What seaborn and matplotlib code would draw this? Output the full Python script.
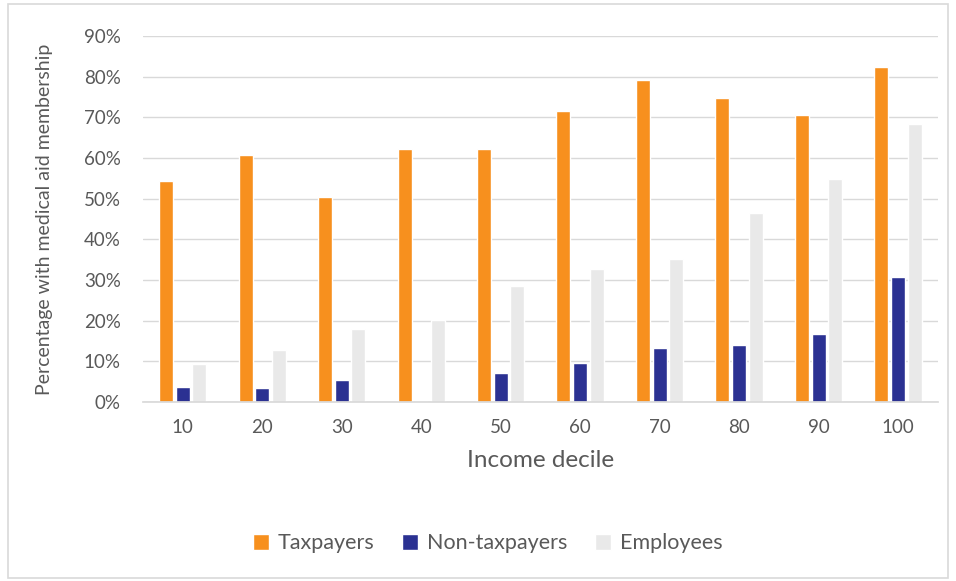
import matplotlib.pyplot as plt
import numpy as np
import pandas as pd
import seaborn as sns
from matplotlib.patches import Rectangle
from matplotlib.ticker import PercentFormatter

deciles = [10, 20, 30, 40, 50, 60, 70, 80, 90, 100]
taxpayers = [54.4, 60.7, 50.5, 62.1, 62.3, 71.5, 79.2, 74.8, 70.7, 82.4]
non_taxpayers = [3.6, 3.4, 5.3, 0.0, 7.2, 9.6, 13.2, 14.1, 16.7, 30.7]
employees = [9.3, 12.8, 17.9, 20.2, 28.5, 32.8, 35.1, 46.6, 54.9, 68.4]

series = ['Taxpayers', 'Non-taxpayers', 'Employees']
colors = ['#F7901E', '#2B3192', '#E9E9E9']

data = pd.DataFrame({
    'decile': deciles * 3,
    'group': np.repeat(series, len(deciles)),
    'value': taxpayers + non_taxpayers + employees,
})

sns.set_theme(style='white')
plt.rcParams['font.family'] = ['Lato', 'DejaVu Sans']
text_color = '#595959'

fig = plt.figure(figsize=(9.56, 5.81), dpi=100)
ax = fig.add_axes([0.1496, 0.308, 0.8314, 0.63])

sns.barplot(data=data, x='decile', y='value', hue='group', hue_order=series,
            palette=colors, width=0.63, gap=0.16, saturation=1, ax=ax, legend=True)

ax.set_ylim(0, 90)
ax.set_yticks(np.arange(0, 91, 10))
ax.yaxis.set_major_formatter(PercentFormatter(decimals=0))
ax.grid(axis='y', color='#D9D9D9', linewidth=1)
ax.set_axisbelow(True)
for s in ['top', 'right', 'left']:
    ax.spines[s].set_visible(False)
ax.spines['bottom'].set_color('#D9D9D9')
ax.tick_params(axis='both', length=0, labelsize=13.5, labelcolor=text_color)
ax.tick_params(axis='x', pad=12)
ax.tick_params(axis='y', pad=16)
ax.set_xlabel('Income decile', fontsize=17.5, color=text_color, labelpad=10)
ax.set_ylabel('Percentage with medical aid membership', fontsize=14, color=text_color, labelpad=22)

ax.legend(loc='center', bbox_to_anchor=(0.51, 0.065), bbox_transform=fig.transFigure,
          ncol=3, frameon=False, fontsize=15.5, labelcolor=text_color,
          handlelength=0.75, handleheight=0.75, handletextpad=0.4, columnspacing=1.3)

fig.patches.append(Rectangle((8 / 956, 3 / 581), 940 / 956, 574 / 581, transform=fig.transFigure,
                             fill=False, edgecolor='#D9D9D9', linewidth=1.2))

fig.savefig('out.png', dpi=100)
